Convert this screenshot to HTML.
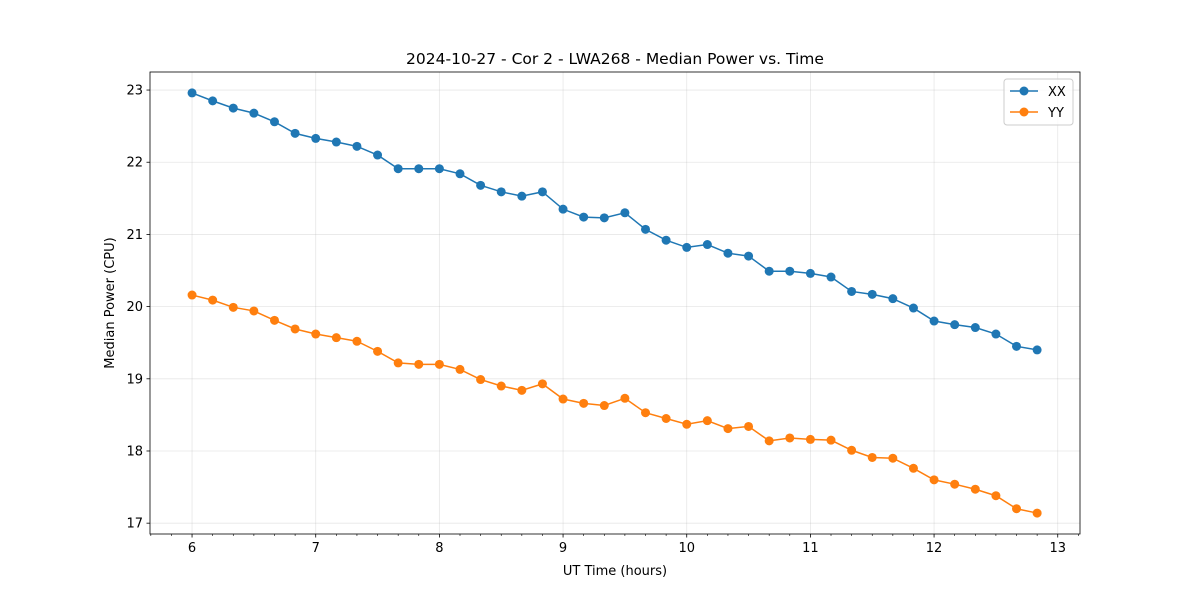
<!DOCTYPE html>
<html><head><meta charset="utf-8"><style>
body{margin:0;background:#fff}
svg{display:block;font-family:"DejaVu Sans","Liberation Sans",sans-serif}
</style></head><body>
<svg id="chart" width="1200" height="600" xmlns="http://www.w3.org/2000/svg"></svg>
<script>
const times = [];
for (let i = 0; i < 42; i++) times.push(6 + i / 6);
const xxValues = [22.96,22.85,22.75,22.68,22.56,22.40,22.33,22.28,22.22,22.10,21.91,21.91,21.91,21.84,21.68,21.59,21.53,21.59,21.35,21.24,21.23,21.30,21.07,20.92,20.82,20.86,20.74,20.70,20.49,20.49,20.46,20.41,20.21,20.17,20.11,19.98,19.80,19.75,19.71,19.62,19.45,19.40];
const yyValues = [20.16,20.09,19.99,19.94,19.81,19.69,19.62,19.57,19.52,19.38,19.22,19.20,19.20,19.13,18.99,18.90,18.84,18.93,18.72,18.66,18.63,18.73,18.53,18.45,18.37,18.42,18.31,18.34,18.14,18.18,18.16,18.15,18.01,17.91,17.90,17.76,17.60,17.54,17.47,17.38,17.20,17.14];
const xTicks = [6,7,8,9,10,11,12,13];
const yTicks = [17,18,19,20,21,22,23];

const L=150,R=1080,T=72,B=534;
const xMin=5.660,xMax=13.180,yMin=16.85,yMax=23.25;
const sx=v=>L+(v-xMin)/(xMax-xMin)*(R-L);
const sy=v=>B-(v-yMin)/(yMax-yMin)*(B-T);
const svg=document.getElementById('chart');
const NS='http://www.w3.org/2000/svg';
function mk(tag,attrs,parent){const e=document.createElementNS(NS,tag);for(const k in attrs)e.setAttribute(k,attrs[k]);(parent||svg).appendChild(e);return e;}

const grid=mk('g',{});


xTicks.forEach(t=>{mk('line',{x1:sx(t),x2:sx(t),y1:T,y2:B,stroke:'#b0b0b0','stroke-opacity':0.3,'stroke-width':0.8},grid);});
yTicks.forEach(t=>{mk('line',{x1:L,x2:R,y1:sy(t),y2:sy(t),stroke:'#b0b0b0','stroke-opacity':0.3,'stroke-width':0.8},grid);});

const ax=mk('g',{});


for(let m=Math.ceil(xMin*6);m<=Math.floor(xMax*6);m++){const v=m/6;if(m%6===0)continue;mk('line',{x1:sx(v),x2:sx(v),y1:B,y2:B+2,stroke:'#000','stroke-width':0.6},ax);}
xTicks.forEach(t=>{mk('line',{x1:sx(t),x2:sx(t),y1:B,y2:B+3.5,stroke:'#000','stroke-width':0.8},ax);
 const tx=mk('text',{x:sx(t),y:B+18,'text-anchor':'middle','font-size':13},ax);tx.textContent=t;
 
 });
yTicks.forEach(t=>{mk('line',{x1:L-3.5,x2:L,y1:sy(t),y2:sy(t),stroke:'#000','stroke-width':0.8},ax);
 const tx=mk('text',{x:L-7,y:sy(t)+4.5,'text-anchor':'end','font-size':13},ax);tx.textContent=t;
 
 });

function series(vals,color,name){
 const g=mk('g',{});
 
 
 mk('polyline',{points:vals.map((v,i)=>sx(times[i])+','+sy(v)).join(' '),fill:'none',stroke:color,'stroke-width':1.5},g);
 vals.forEach((v,i)=>{const c=mk('circle',{cx:sx(times[i]),cy:sy(v),r:4.5,fill:color},g);
  
  });
}
series(xxValues,'#1f77b4','series-xx');
series(yyValues,'#ff7f0e','series-yy');

mk('rect',{x:L,y:T,width:R-L,height:B-T,fill:'none',stroke:'#000','stroke-width':0.8});

const title=mk('text',{x:(L+R)/2,y:64,'text-anchor':'middle','font-size':15.5});
title.textContent='2024-10-27 - Cor 2 - LWA268 - Median Power vs. Time';


const xl=mk('text',{x:(L+R)/2,y:575,'text-anchor':'middle','font-size':13});
xl.textContent='UT Time (hours)';


const yl=mk('text',{x:0,y:0,'text-anchor':'middle','font-size':13,transform:'translate(114,'+((T+B)/2)+') rotate(-90)'});
yl.textContent='Median Power (CPU)';



const lg=mk('g',{});


mk('rect',{x:1004,y:79,width:69,height:46,rx:3,fill:'#fff','fill-opacity':0.8,stroke:'#ccc','stroke-width':1},lg);
[['XX','#1f77b4',91],['YY','#ff7f0e',112]].forEach(([n,c,y])=>{
 mk('line',{x1:1010,x2:1038,y1:y,y2:y,stroke:c,'stroke-width':1.5},lg);
 mk('circle',{cx:1024,cy:y,r:4.5,fill:c},lg);
 const t=mk('text',{x:1048,y:y+5,'font-size':13},lg);t.textContent=n;
 
 
});
</script>
</body></html>
